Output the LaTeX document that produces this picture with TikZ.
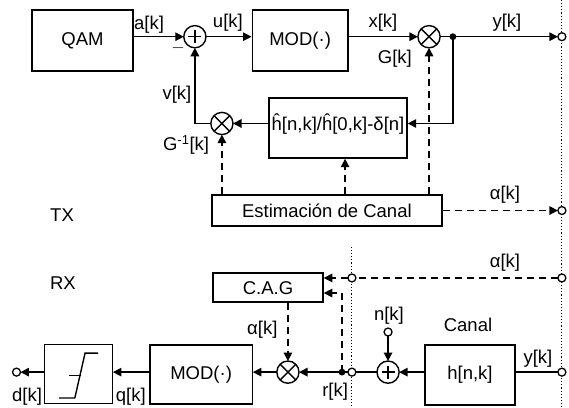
\documentclass[tikz,border=0pt]{standalone}
\usepackage{fontspec}
\setmainfont{Liberation Sans}
\usetikzlibrary{arrows.meta,calc}

\begin{document}
\begin{tikzpicture}[
  font=\fontsize{18.5}{21}\selectfont,
  blk/.style={draw,line width=1.4pt,inner sep=2pt,align=center},
  sumc/.style={circle,draw,line width=1.4pt,minimum size=0.78cm,inner sep=0pt,outer sep=0pt,
    path picture={\draw[line width=1.4pt] ([yshift=0.23cm]path picture bounding box.center) -- ([yshift=-0.23cm]path picture bounding box.center)
      ([xshift=-0.23cm]path picture bounding box.center) -- ([xshift=0.23cm]path picture bounding box.center);}},
  mulc/.style={circle,draw,line width=1.4pt,minimum size=0.78cm,inner sep=0pt,outer sep=0pt,
    path picture={\draw[line width=1.4pt] (path picture bounding box.north west) -- (path picture bounding box.south east)
      (path picture bounding box.north east) -- (path picture bounding box.south west);}},
  port/.style={circle,draw,line width=1.3pt,fill=white,minimum size=0.28cm,inner sep=0pt,outer sep=0pt},
  jn/.style={circle,fill,minimum size=0.24cm,inner sep=0pt},
  wire/.style={line width=1.4pt},
  dsh/.style={line width=1.4pt,dash pattern=on 7pt off 5pt},
  sep/.style={line width=1.1pt,dash pattern=on 1.1pt off 2pt},
  >={Triangle[length=8.5pt,width=8.5pt]}]
\useasboundingbox (0,0) rectangle (20,-14.34);
% ---- separators
\coordinate (sepa) at (19.75,0); \coordinate (sepb) at (19.75,-14.34);
\coordinate (sepc) at (12.37,-8.68); \coordinate (sepd) at (12.37,-14.34);
\draw[sep] (sepa) -- (sepb);
\draw[sep] (sepc) -- (sepd);
% ---- TX: forward path
\node[blk,minimum width=3.55cm,minimum height=2.14cm] (qam) at (2.90,-1.42) {QAM};
\node[sumc] (s1) at (6.85,-1.29) {};
\node[blk,minimum width=3.37cm,minimum height=2.14cm] (mod1) at (10.55,-1.42) {MOD(·)};
\node[mulc] (m1) at (15.08,-1.29) {};
\node[jn] (d1) at (15.92,-1.29) {};
\node[port] (out1) at (19.75,-1.29) {};
\draw[wire,->] (qam.east |- s1) -- (s1.west);
\draw[wire,->] (s1.east) -- (s1 -| mod1.west);
\draw[wire,->] (m1 -| mod1.east) -- (m1.west);
\draw[wire,->] (m1.east) -- (out1.west);
\node (la) at (5.24,-0.88) {a[k]};
\node (lminus) at (6.26,-1.69) {\textbf{$-$}};
\node (lu) at (8.01,-0.81) {u[k]};
\node (lx) at (13.46,-0.79) {x[k]};
\node (lg) at (13.88,-2.07) {G[k]};
\node (ly) at (17.82,-0.79) {y[k]};
% ---- TX: feedback path
\node[blk,minimum width=4.85cm,minimum height=2.11cm] (fb) at (11.88,-4.50) {};
\node (fbtxt) at (11.88,-4.36) {ĥ[n,k]/ĥ[0,k]-δ[n]};
\node[mulc] (m2) at (7.80,-4.34) {};
\draw[wire,->] (d1.center) |- (fb.east |- m2);
\draw[wire,->] (fb.west |- m2) -- (m2.east);
\draw[wire,->] (m2.west) -| (s1.south);
\node (lv) at (6.22,-3.32) {v[k]};
\node (lginv) at (6.54,-5.10) {G\textsuperscript{-1}[k]};
% ---- TX: channel estimation
\node[blk,minimum width=8.08cm,minimum height=1.09cm] (est) at (11.49,-7.40) {Estimación de Canal};
\node[port] (aout) at (19.75,-7.40) {};
\coordinate (xfb) at (12.13,-6);
\draw[dsh,->] (est.north -| m2) -- (m2.south);
\draw[dsh,->] (est.north -| xfb) -- (fb.south -| xfb);
\draw[dsh,->] (est.north -| m1) -- (m1.south);
\draw[dsh,->] (est.east) -- (aout.west);
\node (la1) at (17.75,-6.85) {α[k]};
\node (ltx) at (2.18,-7.56) {TX};
% ---- RX
\node (lrx) at (2.21,-9.95) {RX};
\node[port] (ar) at (19.75,-9.77) {};
\node[port] (ain) at (12.37,-9.77) {};
\node[blk,minimum width=3.87cm,minimum height=1.02cm] (cag) at (9.42,-10.11) {C.A.G};
\draw[dsh] (ar.west) -- (ain.east);
\draw[dsh,->] (ain.west) -- (cag.east |- ain);
\node (la2) at (17.75,-9.24) {α[k]};
\node[blk,minimum width=3.16cm,minimum height=2.11cm] (can) at (16.52,-13.18) {h[n,k]};
\node (lcan) at (16.45,-11.42) {Canal};
\node[port] (rc) at (19.75,-13.08) {};
\node[sumc] (s2) at (13.64,-13.08) {};
\node[port] (nin) at (13.64,-11.67) {};
\node[port] (rin) at (12.37,-13.08) {};
\node[jn] (rdot) at (12.02,-13.08) {};
\node[mulc] (m3) at (10.12,-13.08) {};
\node[blk,minimum width=3.59cm,minimum height=2.07cm] (mod2) at (7.07,-13.16) {MOD(·)};
\node[blk,minimum width=2.39cm,minimum height=2.07cm] (dec) at (2.75,-13.15) {};
\node[port] (dout) at (0.58,-13.08) {};
\draw[wire] (can.east |- rc) -- (rc.west);
\draw[wire,->] (can.west |- s2) -- (s2.east);
\draw[wire,->] (nin.south) -- (s2.north);
\draw[wire] (s2.west) -- (rin.east);
\draw[wire,->] (rin.west) -- (m3.east);
\draw[dsh,->] (rdot.center) |- ([yshift=-0.19cm]cag.east);
\draw[dsh,->] (cag.south -| m3) -- (m3.north);
\draw[wire,->] (m3.west) -- (m3 -| mod2.east);
\draw[wire,->] (m3 -| mod2.west) -- (m3 -| dec.east);
\draw[wire,->] (m3 -| dec.west) -- (dout.east);
% slicer symbol
\draw[wire] ($(dec)+(-0.67,-0.84)$) -- ($(dec)+(-0.12,-0.84)$) -- ($(dec)+(0.24,0.74)$) -- ($(dec)+(0.70,0.74)$);
\draw[wire] ($(dec)+(-0.32,-0.04)$) -- ($(dec)+(0.08,-0.04)$);
\node (ly2) at (18.91,-12.62) {y[k]};
\node (ln) at (13.67,-11.11) {n[k]};
\node (lr) at (11.78,-13.78) {r[k]};
\node (la3) at (9.22,-11.60) {α[k]};
\node (lq) at (4.60,-13.96) {q[k]};
\node (ld) at (0.95,-13.96) {d[k]};
\end{tikzpicture}
\end{document}
